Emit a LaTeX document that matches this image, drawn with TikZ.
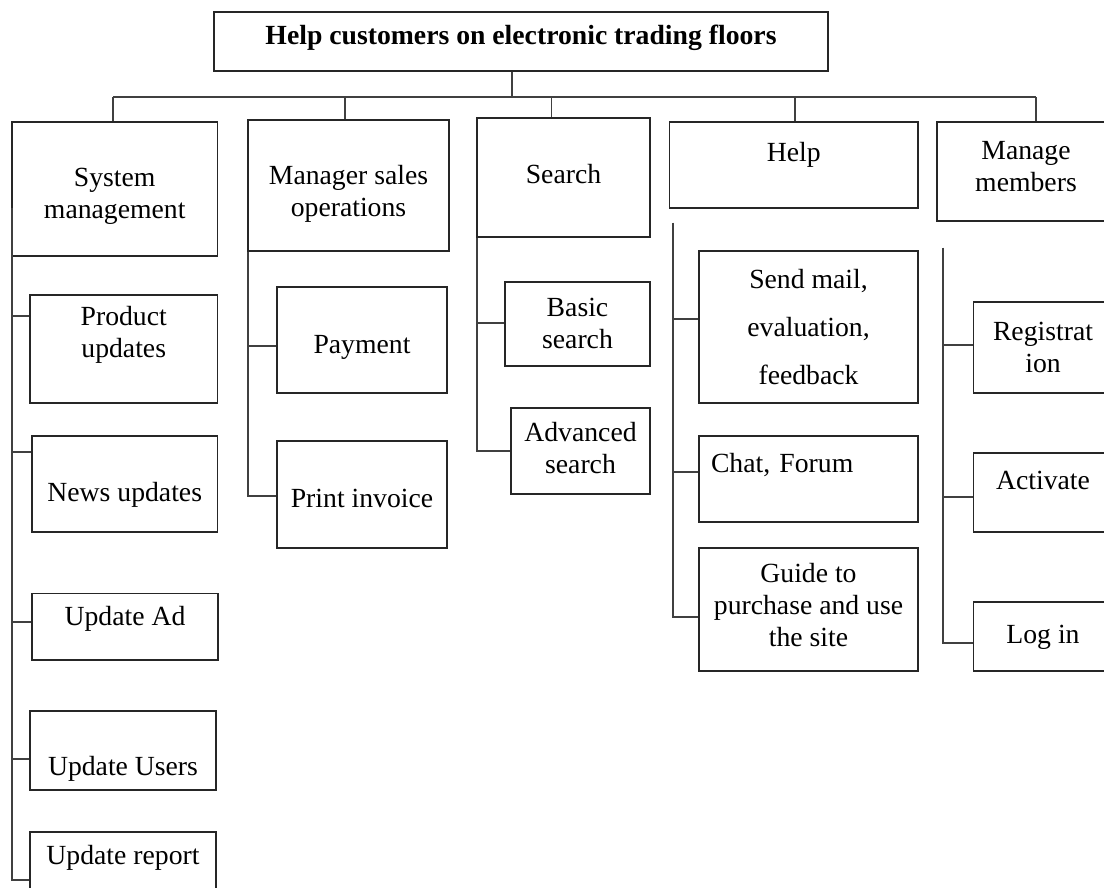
\documentclass[tikz,border=0pt]{standalone}
\usepackage{fontspec}
\setmainfont{Liberation Serif}

\tikzset{
  box/.style={draw=black!85, line width=1.7pt, inner sep=2pt, align=center,
    font=\fontsize{27.7}{32}\selectfont},
  link/.style={draw=black!75, line width=1.7pt}
}

\begin{document}
\begin{tikzpicture}[x=1pt, y=-1pt]
  \useasboundingbox (0,0) rectangle (1104,887);
  \clip (0,0) rectangle (1104,887);

  \node[box, minimum width=614pt, minimum height=58.4pt, text depth=13pt,
    font=\fontsize{27.7}{32}\selectfont\bfseries] (root) at (521,41.5)
    {Help customers on electronic trading floors};

  \node[box, minimum width=205.5pt, minimum height=134.3pt, text height=66pt] (sys) at (114.75,188.85) {System\\management};
  \node[box, minimum width=201pt, minimum height=130.7pt, text height=69pt] (mgr) at (348.5,185.35) {Manager sales\\operations};
  \node[box, minimum width=173pt, minimum height=119pt, text depth=8pt] (search) at (563.5,177.5) {Search};
  \node[box, minimum width=248.5pt, minimum height=86pt, text depth=26pt] (help) at (793.75,165) {Help};
  \node[box, minimum width=178pt, minimum height=99pt, text depth=10pt] (mem) at (1026,171.5) {Manage\\members};

  \node[box, minimum width=187.5pt, minimum height=108pt, text depth=35pt] (prod) at (123.75,349) {Product\\updates};
  \node[box, minimum width=185.5pt, minimum height=96pt, text height=41pt] (news) at (124.75,483.7) {News updates};
  \node[box, minimum width=186pt, minimum height=66.7pt, text depth=21pt] (ad) at (125,626.7) {Update Ad};
  \node[box, minimum width=186pt, minimum height=79pt, text height=56pt] (users) at (123,750.5) {Update Users};
  \node[box, minimum width=186pt, minimum height=96.6pt, text depth=50pt] (rep) at (123,880) {Update report};

  \node[box, minimum width=170pt, minimum height=106pt, text height=33pt] (pay) at (362,339.7) {Payment};
  \node[box, minimum width=170pt, minimum height=107pt, text height=27pt] (inv) at (362,494.5) {Print invoice};

  \node[box, minimum width=145pt, minimum height=84pt] (basic) at (577.5,323.7) {Basic\\search};
  \node[box, minimum width=139pt, minimum height=86pt, text depth=6pt] (adv) at (580.5,451) {Advanced\\search};

  \node[box, minimum width=219pt, minimum height=152.6pt] (mail) at (808.5,327) {Send mail,\\[16pt]evaluation,\\[16pt]feedback};
  \node[box, minimum width=219pt, minimum height=86pt, inner xsep=12pt, text width=195pt,
    align=left, text depth=32pt] (chat) at (808.5,478.7) {Chat, Forum};
  \node[box, minimum width=219pt, minimum height=122.4pt, text depth=10pt] (guide) at (808.5,609.5) {Guide to\\purchase and use\\the site};

  \node[box, minimum width=139pt, minimum height=90.4pt] (reg) at (1043,347.5) {Registrat\\ion};
  \node[box, minimum width=139pt, minimum height=79pt, text depth=24pt] (act) at (1043,492.2) {Activate};
  \node[box, minimum width=139pt, minimum height=69pt, text depth=3pt] (login) at (1043,636.2) {Log in};

  \draw[link] ([xshift=-9pt]root.south) -- ++(0,25.3) coordinate (bus);
  \draw[link] ([xshift=-2pt]sys.north |- bus) -- ([xshift=10pt]mem.north |- bus);
  \foreach \n/\dx in {sys/-2,mgr/-3.5,search/-12,help/1,mem/10}
    \draw[link] ([xshift=\dx pt]\n.north) -- ([xshift=\dx pt]\n.north |- bus);

  \coordinate (sysspine) at ([xshift=1pt,yshift=-19pt]sys.west);
  \coordinate (mgrspine) at ([xshift=1pt]mgr.south west);
  \coordinate (searchspine) at ([xshift=1pt]search.south west);
  \coordinate (helpspine) at ([xshift=4.5pt,yshift=-14pt]help.south west);
  \coordinate (memspine) at ([xshift=7pt,yshift=-26pt]mem.south west);

  \foreach \n/\dy in {prod/33.3,news/31.7,ad/5,users/-8.8,rep/0}
    \draw[link] (sysspine) |- ([yshift=\dy pt]\n.west);
  \foreach \n/\dy in {pay/-6,inv/-1.2}
    \draw[link] (mgrspine) |- ([yshift=\dy pt]\n.west);
  \foreach \n/\dy in {basic/1,adv/0}
    \draw[link] (searchspine) |- ([yshift=\dy pt]\n.west);
  \foreach \n/\dy in {mail/8,chat/7,guide/-7.8}
    \draw[link] (helpspine) |- ([yshift=\dy pt]\n.west);
  \foreach \n/\dy in {reg/2.5,act/-4.5,login/-7.1}
    \draw[link] (memspine) |- ([yshift=\dy pt]\n.west);
\end{tikzpicture}
\end{document}
